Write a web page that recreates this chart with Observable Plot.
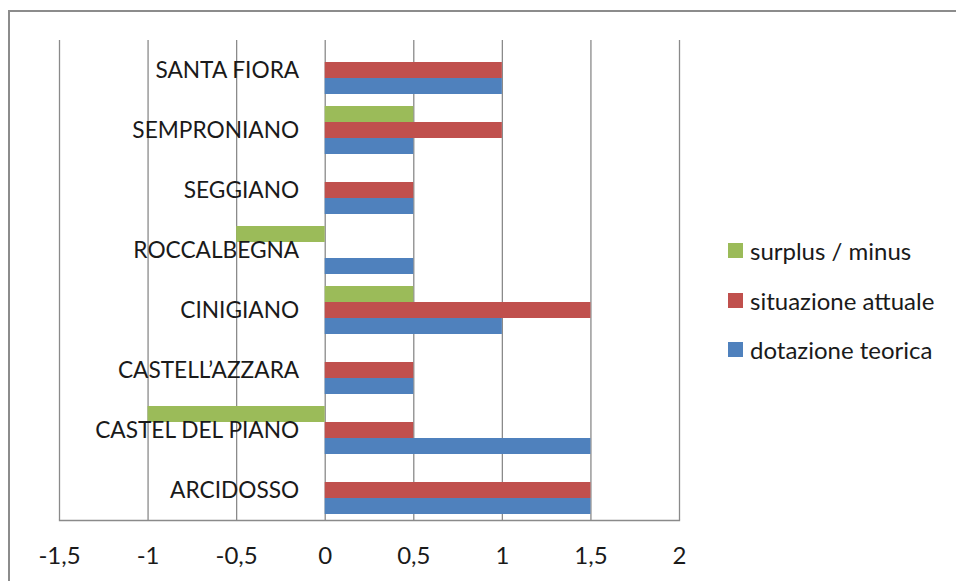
<!DOCTYPE html>
<html>
<head>
<meta charset="utf-8">
<script src="https://cdn.jsdelivr.net/npm/d3@7"></script>
<script src="https://cdn.jsdelivr.net/npm/@observablehq/plot@0.6"></script>
<style>
  html, body { margin: 0; padding: 0; background: #fff; }
  #wrap { position: relative; width: 956px; height: 581px; overflow: hidden; font-family: Lato, "Open Sans", sans-serif; color: #1a1a1a; }
  #border { position: absolute; left: 8px; top: 10px; width: 980px; height: 600px; border: 2px solid #8c8c8c; box-sizing: border-box; }
  #chart { position: absolute; left: 0; top: 0; }
  #legend { position: absolute; left: 728px; top: 226px; }
  .item { display: flex; align-items: center; height: 49.5px; font-size: 24px; }
  .sw { width: 15px; height: 15px; margin-right: 7px; }
</style>
</head>
<body>
<div id="wrap">
  <div id="border"></div>
  <div id="chart"></div>
  <div id="legend"></div>
</div>
<script>
const categories = ["SANTA FIORA", "SEMPRONIANO", "SEGGIANO", "ROCCALBEGNA", "CINIGIANO", "CASTELL’AZZARA", "CASTEL DEL PIANO", "ARCIDOSSO"];
const series = ["surplus / minus", "situazione attuale", "dotazione teorica"];
const dotazioneTeorica = [1, 0.5, 0.5, 0.5, 1, 0.5, 1.5, 1.5];
const situazioneAttuale = [1, 1, 0.5, 0, 1.5, 0.5, 0.5, 1.5];
const surplusMinus = [0, 0.5, 0, -0.5, 0.5, 0, -1, 0];
const xTicks = [-1.5, -1, -0.5, 0, 0.5, 1, 1.5, 2];
const colors = ["#9BBB59", "#C0504D", "#4F81BD"];

const valuesBySeries = [surplusMinus, situazioneAttuale, dotazioneTeorica];
const rows = [];
categories.forEach((c, i) => series.forEach((s, j) => rows.push({cat: c, series: s, value: valuesBySeries[j][i]})));

const fmt = d => String(d).replace(".", ",");
const FONT = 24;
const CAT_FONT = 22.7;

const chart = Plot.plot({
  width: 956,
  height: 581,
  marginLeft: 59,
  marginRight: 277,
  marginTop: 40,
  marginBottom: 61,
  style: {fontFamily: "Lato, 'Open Sans', sans-serif", fontSize: FONT + "px", color: "#1a1a1a", background: "transparent", overflow: "visible"},
  x: {domain: [-1.5, 2], axis: null},
  y: {domain: series, paddingInner: 0, paddingOuter: 0.3, axis: null},
  fy: {domain: categories, padding: 0, axis: null},
  color: {domain: series, range: colors},
  marks: [
    Plot.gridX(xTicks, {stroke: "#8a8a8a", strokeOpacity: 1, strokeWidth: 1.3}),
    Plot.barX(rows, {fy: "cat", y: "series", x: "value", fill: "series"}),
    Plot.text(categories, {fy: d => d, x: () => 0, text: d => d, textAnchor: "end", dx: -26, fontSize: CAT_FONT, fill: "#1a1a1a"}),
    Plot.axisX(xTicks, {anchor: "bottom", tickSize: 0, tickPadding: 26, tickFormat: fmt, fontSize: FONT, label: null}),
    Plot.frame({anchor: "bottom", facet: "super", stroke: "#8a8a8a", strokeWidth: 1.3})
  ]
});
document.getElementById("chart").appendChild(chart);

const legend = document.getElementById("legend");
series.forEach((s, i) => {
  const item = document.createElement("div");
  item.className = "item";
  const sw = document.createElement("span");
  sw.className = "sw";
  sw.style.background = colors[i];
  const t = document.createElement("span");
  t.textContent = s;
  item.appendChild(sw);
  item.appendChild(t);
  legend.appendChild(item);
});
</script>
</body>
</html>
